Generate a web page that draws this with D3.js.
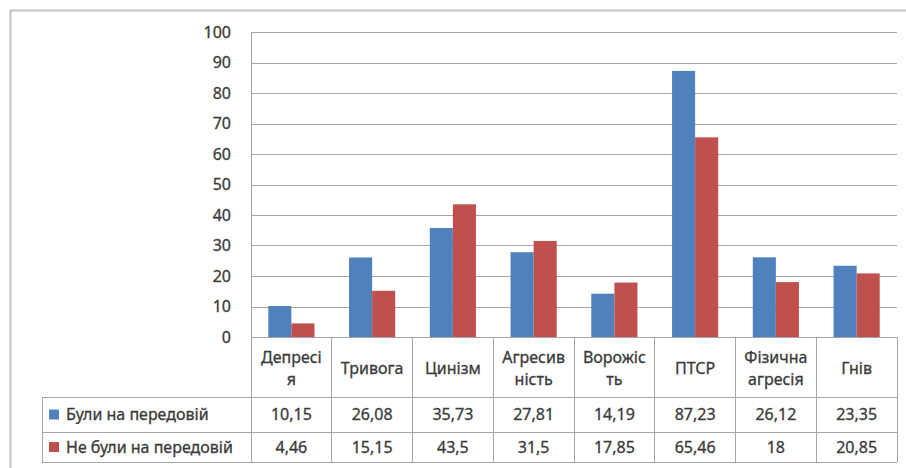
<html>
<head>
<meta charset="utf-8">
<script src="https://d3js.org/d3.v7.min.js"></script>
<style>
  * { margin: 0; padding: 0; }
  body { background: #fff; }
  svg text { font-family: 'Noto Sans', sans-serif; fill: #3a3a3a; stroke: #3a3a3a; stroke-width: 0.3px; }
</style>
</head>
<body>
<div id="chart"></div>
<script>
// categories, wrapped the way the table shows them
var categories = ['Депресія', 'Тривога', 'Цинізм', 'Агресивність', 'Ворожість', 'ПТСР', 'Фізична агресія', 'Гнів'];
var categoryLines = [['Депресі', 'я'], ['Тривога'], ['Цинізм'], ['Агресив', 'ність'], ['Ворожіс', 'ть'], ['ПТСР'], ['Фізична', 'агресія'], ['Гнів']];
var seriesNames = ['Були на передовій', 'Не були на передовій'];
var frontline = [10.15, 26.08, 35.73, 27.81, 14.19, 87.23, 26.12, 23.35];
var notFrontline = [4.46, 15.15, 43.5, 31.5, 17.85, 65.46, 18, 20.85];
var yTicks = [0, 10, 20, 30, 40, 50, 60, 70, 80, 90, 100];
var colors = ['#4f81bd', '#c0504d'];

var width = 906, height = 468;
var plotLeft = 251, plotRight = 897, plotTop = 32, plotBottom = 337;
var headBottom = 397, row1Bottom = 432, tableBottom = 462, legendLeft = 42;
var lineColor = '#a6a6a6';
var fs = '16px';

var svg = d3.select('#chart').append('svg')
  .attr('width', width)
  .attr('height', height);

// chart area border
svg.append('rect')
  .attr('x', 10.5).attr('y', 10.5)
  .attr('width', 920).attr('height', 480)
  .attr('fill', 'none')
  .attr('stroke', '#c4c4c4')
  .attr('stroke-width', 2);

var y = d3.scaleLinear().domain([0, 100]).range([plotBottom, plotTop]);
var x = d3.scaleBand().domain(categories).range([plotLeft, plotRight]);
var xs = d3.scaleBand().domain(seriesNames).range([0, x.bandwidth()]).paddingOuter(0.75);

// gridlines
svg.append('g')
  .selectAll('line')
  .data(yTicks)
  .enter()
  .append('line')
  .attr('x1', plotLeft).attr('x2', plotRight)
  .attr('y1', function (d) { return Math.round(y(d)) + 0.5; })
  .attr('y2', function (d) { return Math.round(y(d)) + 0.5; })
  .attr('stroke', lineColor);

// y axis labels
var yAxis = d3.axisLeft(y).tickValues(yTicks).tickSize(0).tickPadding(20);
var yg = svg.append('g')
  .attr('transform', 'translate(' + plotLeft + ',0)')
  .call(yAxis);
yg.select('.domain').remove();
yg.selectAll('text')
  .style('font-family', "'Noto Sans', sans-serif")
  .style('font-size', fs)
  .attr('fill', '#3a3a3a');

// bars
var series = [frontline, notFrontline];
series.forEach(function (vals, s) {
  svg.append('g')
    .selectAll('rect')
    .data(vals)
    .enter()
    .append('rect')
    .attr('x', function (d, i) { return x(categories[i]) + xs(seriesNames[s]); })
    .attr('y', function (d) { return y(d); })
    .attr('width', xs.bandwidth())
    .attr('height', function (d) { return plotBottom - y(d); })
    .attr('fill', colors[s]);
});

// data table lines
var tbl = svg.append('g').attr('stroke', lineColor).attr('shape-rendering', 'crispEdges');
tbl.append('line').attr('x1', plotLeft).attr('x2', plotLeft).attr('y1', plotTop).attr('y2', tableBottom);
categories.forEach(function (c) {
  var xx = x(c) + x.bandwidth();
  tbl.append('line').attr('x1', xx).attr('x2', xx).attr('y1', plotBottom).attr('y2', tableBottom);
});
tbl.append('line').attr('x1', legendLeft).attr('x2', legendLeft).attr('y1', headBottom).attr('y2', tableBottom);
[headBottom, row1Bottom, tableBottom].forEach(function (yy) {
  tbl.append('line').attr('x1', legendLeft).attr('x2', plotRight).attr('y1', yy).attr('y2', yy);
});

// category header
categories.forEach(function (c, i) {
  var lines = categoryLines[i];
  var cx = x(c) + x.bandwidth() / 2;
  var mid = (plotBottom + headBottom) / 2 + 1;
  lines.forEach(function (ln, j) {
    svg.append('text')
      .attr('x', cx)
      .attr('y', mid + (j - (lines.length - 1) / 2) * 22)
      .attr('dy', '0.35em')
      .attr('text-anchor', 'middle')
      .style('font-size', fs)
      .text(ln);
  });
});

// table rows
var rowMid = [(headBottom + row1Bottom) / 2, (row1Bottom + tableBottom) / 2];
series.forEach(function (vals, s) {
  svg.append('rect')
    .attr('x', 49).attr('y', rowMid[s] - 5)
    .attr('width', 10).attr('height', 10)
    .attr('fill', colors[s]);
  svg.append('text')
    .attr('x', 66).attr('y', rowMid[s])
    .attr('dy', '0.35em')
    .style('font-size', fs)
    .text(seriesNames[s]);
  vals.forEach(function (v, i) {
    svg.append('text')
      .attr('x', x(categories[i]) + x.bandwidth() / 2)
      .attr('y', rowMid[s])
      .attr('dy', '0.35em')
      .attr('text-anchor', 'middle')
      .style('font-size', fs)
      .text(String(v).replace('.', ','));
  });
});
</script>
</body>
</html>
